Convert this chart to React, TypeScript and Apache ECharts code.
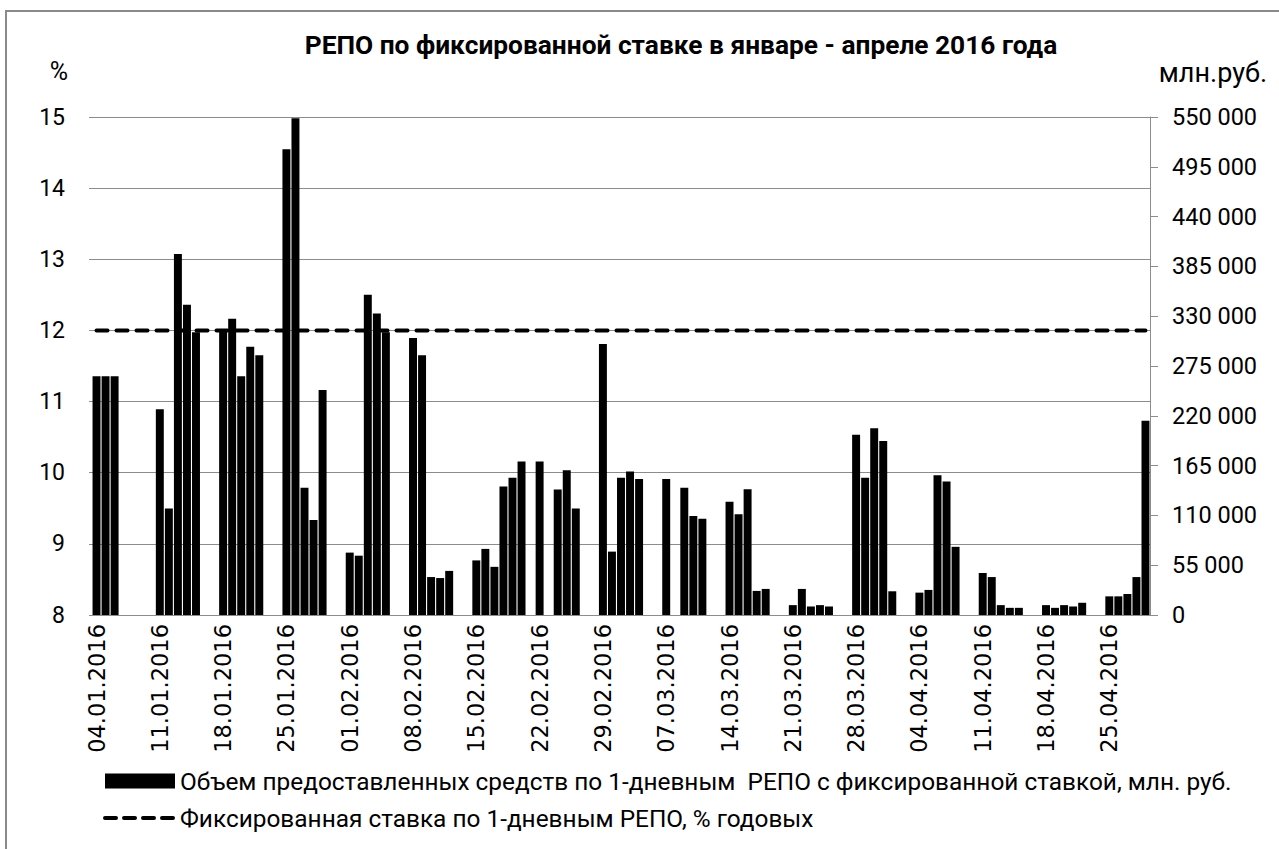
import React, { useEffect, useRef } from "react";
import * as echarts from "echarts";

// Categories: every calendar day from 04.01.2016 to 29.04.2016
const startDate = new Date(2016, 0, 4);
const dayCount = 117;
const pad = (n: number) => (n < 10 ? "0" + n : "" + n);
const categories: string[] = Array.from({ length: dayCount }, (_, i) => {
  const d = new Date(startDate.getFullYear(), startDate.getMonth(), startDate.getDate() + i);
  return pad(d.getDate()) + "." + pad(d.getMonth() + 1) + "." + d.getFullYear();
});

// Volume, mln RUB (null = no operation that day), one row per week Mon..Sun
const volume: (number | null)[] = [
  263600, 263600, 263600, null, null, null, null,
  227300, 117600, 398700, 342600, 312300, null, null,
  313000, 327200, 263600, 296200, 286800, null, null,
  514400, 548500, 140400, 104800, 248600, null, null,
  68900, 65500, 353800, 332900, 312300, null, null,
  305900, 286800, 41900, 40800, 48700, null, null,
  60300, 73000, 53200, 141900, 151600, 169600, null,
  169600, null, 138500, 159900, 117600, null, null,
  299200, 70000, 151600, 158400, 150100, null, null,
  150100, null, 140400, 109300, 106300, null, null,
  125100, 111200, 138900, 26600, 28800, null, null,
  10900, 28800, 9400, 10900, 9400, null, null,
  199200, 151600, 206300, 192100, 26200, null, null,
  24700, 27700, 154300, 147500, 75300, null, null,
  46400, 41900, 10900, 7900, 7900, null, null,
  10900, 7900, 10900, 9400, 13500, null, null,
  20600, 20600, 23200, 41900, 214500,
];

// Fixed 1-day REPO rate, % per annum
const rate: number[] = categories.map(() => 12);

const titleText = "РЕПО по фиксированной ставке в январе - апреле 2016 года";
const barName = "Объем предоставленных средств по 1-дневным  РЕПО с фиксированной ставкой, млн. руб.";
const lineName = "Фиксированная ставка по 1-дневным РЕПО, % годовых";
const leftUnit = "%";
const rightUnit = "млн.руб.";

const FONT = "Roboto, 'Noto Sans', sans-serif";
const DATE_FONT = "'DejaVu Sans', Roboto, sans-serif";
const GRID = "#8c8c8c";

export default function App() {
  const ref = useRef<HTMLDivElement>(null);
  useEffect(() => {
    if (!ref.current) return;
    const chart = echarts.init(ref.current, null, { renderer: "svg" });
    chart.setOption({
      animation: false,
      backgroundColor: "#ffffff",
      textStyle: { fontFamily: FONT, color: "#000" },
      title: {
        text: titleText,
        left: 676,
        top: 27,
        textAlign: "center",
        textStyle: { fontFamily: FONT, fontWeight: "bold", fontSize: 26.3, color: "#000" },
      },
      graphic: [
        {
          type: "rect",
          shape: { x: 6, y: 11, width: 1300, height: 900 },
          style: { fill: "none", stroke: "#8a8a8a", lineWidth: 2 },
          silent: true,
        },
        {
          type: "text",
          x: 59,
          y: 71,
          style: { text: leftUnit, font: `25px ${FONT}`, fill: "#000", textAlign: "center", textVerticalAlign: "middle" },
        },
        {
          type: "text",
          x: 1267,
          y: 73,
          style: { text: rightUnit, font: `27px ${FONT}`, fill: "#000", textAlign: "right", textVerticalAlign: "middle" },
        },
      ],
      legend: {
        orient: "vertical",
        left: 98,
        top: 764,
        itemWidth: 70,
        itemHeight: 15,
        itemGap: 13,
        textStyle: { fontFamily: FONT, fontSize: 24.4, color: "#000" },
        data: [
          { name: barName, icon: "rect" },
          {
            name: lineName,
            itemStyle: { color: "rgba(0,0,0,0)", borderWidth: 0, opacity: 0 },
            lineStyle: { color: "#000", width: 4, type: [11, 8], cap: "round" },
          },
        ],
      },
      grid: { left: 92, top: 117, width: 1058, height: 498, containLabel: false },
      xAxis: {
        type: "category",
        data: categories,
        boundaryGap: true,
        axisLine: { show: true, lineStyle: { color: GRID, width: 1 } },
        axisTick: { show: false },
        axisLabel: {
          interval: 6,
          rotate: 90,
          margin: 9,
          fontFamily: DATE_FONT,
          fontSize: 22.5,
          color: "#000",
        },
      },
      yAxis: [
        {
          type: "value",
          min: 8,
          max: 15,
          interval: 1,
          position: "left",
          axisLine: { show: false },
          axisTick: { show: true, length: 3, lineStyle: { color: GRID } },
          splitLine: { show: true, lineStyle: { color: GRID, width: 1 } },
          axisLabel: { margin: 27, fontFamily: FONT, fontSize: 23, color: "#000" },
        },
        {
          type: "value",
          min: 0,
          max: 550000,
          interval: 55000,
          position: "right",
          axisLine: { show: true, lineStyle: { color: GRID, width: 1 } },
          axisTick: { show: true, inside: false, length: 8, lineStyle: { color: GRID } },
          splitLine: { show: false },
          axisLabel: {
            margin: 22,
            fontFamily: FONT,
            fontSize: 23.5,
            color: "#000",
            formatter: (v: number) => String(v).replace(/\B(?=(\d{3})+(?!\d))/g, " "),
          },
        },
      ],
      series: [
        {
          name: barName,
          type: "bar",
          yAxisIndex: 1,
          data: volume,
          barCategoryGap: "12%",
          itemStyle: { color: "#000" },
          z: 2,
        },
        {
          name: lineName,
          type: "line",
          yAxisIndex: 0,
          data: rate,
          symbol: "none",
          showSymbol: false,
          lineStyle: { color: "#000", width: 4, type: [11, 9], cap: "round" },
          itemStyle: { color: "#000" },
          z: 3,
        },
      ],
    });
    return () => chart.dispose();
  }, []);
  return (
    <div
      ref={ref}
      style={{ position: "fixed", left: 0, top: 0, width: 1279, height: 849, background: "#fff" }}
    />
  );
}
